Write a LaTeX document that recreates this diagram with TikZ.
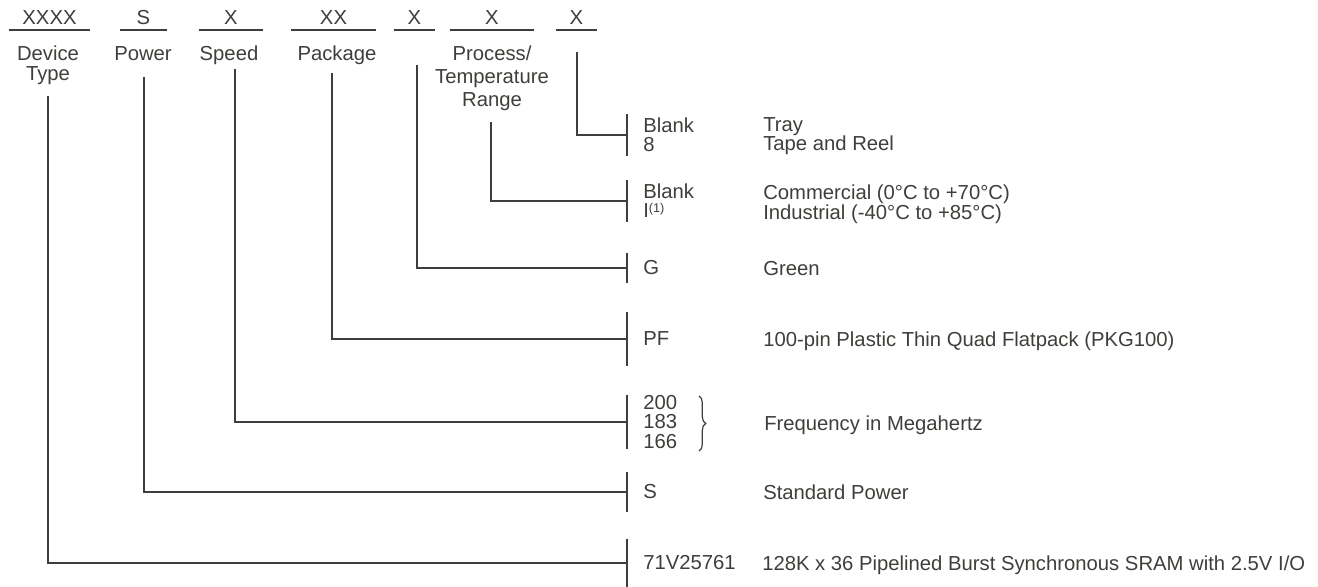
\documentclass[tikz,border=0pt]{standalone}
\usepackage{fontspec}
\setmainfont{Liberation Sans}
\usepackage{xcolor}
\usetikzlibrary{positioning,decorations.pathreplacing}
\definecolor{ink}{RGB}{62,62,58}
\newcommand{\ordfont}{\fontsize{15.2}{14.3}\selectfont}
\newcommand{\notemark}[1]{\raisebox{0.26em}{\fontsize{9.5}{9}\selectfont(#1)}}

\begin{document}
\begin{tikzpicture}[x=0.75pt,y=-0.75pt,
  every node/.style={inner sep=0pt,text=ink,font=\ordfont},
  field/.style={anchor=south,text depth=3.75pt},
  hdr/.style={anchor=north,align=center},
  code/.style={anchor=west,inner xsep=12pt,align=left},
  desc/.style={anchor=north west,align=left},
  wire/.style={draw=ink,line width=1.6pt}]
\useasboundingbox (0,0) rectangle (1318,586);
\node[field,minimum width=60.75pt] (fdev) at (49.5,30) {XXXX};
\node[field,minimum width=35.25pt] (fpow) at (143.5,30) {S};
\node[field,minimum width=48pt] (fspd) at (231,30) {X};
\node[field,minimum width=63.75pt] (fpkg) at (333.5,30) {XX};
\node[field,minimum width=30.75pt] (fgrn) at (414.5,30) {X};
\node[field,minimum width=63pt] (ftmp) at (492,30) {X};
\node[field,minimum width=30.75pt] (fpck) at (576.5,30) {X};
\foreach \f in {fdev,fpow,fspd,fpkg,fgrn,ftmp,fpck}
  \draw[wire] (\f.south west) -- (\f.south east);
\node[hdr] (ldev) at (48,46) {Device\\Type};
\node[hdr] (lpow) at (143,46) {Power};
\node[hdr] (lspd) at (229,46) {Speed};
\node[hdr] (lpkg) at (337,46) {Package};
\node[hdr] (ltmp) at (492,46) {Process/\\[2.6pt]Temperature\\[2.6pt]Range};
\coordinate (sdev) at (48,96);
\coordinate (spow) at (144,77);
\coordinate (sspd) at (235,69);
\coordinate (spkg) at (332,73);
\coordinate (sgrn) at (417,65);
\coordinate (stmp) at (491,122);
\coordinate (spck) at (577,52);
\node[code,minimum height=30.75pt] (cpck) at (627,135) {Blank\\8};
\node[code,minimum height=30.75pt] (ctmp) at (627,201) {Blank\\I\notemark{1}};
\node[code,minimum height=21.75pt] (cgrn) at (627,268) {G};
\node[code,minimum height=39.75pt] (cpkg) at (627,339) {PF};
\node[code,minimum height=40.5pt] (cspd) at (627,422) {200\\183\\166};
\node[code,minimum height=29.25pt] (cpow) at (627,492) {S};
\node[code,minimum height=36pt] (cdev) at (627,563) {71V25761};
\foreach \s/\c in {spck/cpck,stmp/ctmp,sgrn/cgrn,spkg/cpkg,sspd/cspd,spow/cpow,sdev/cdev} {
  \draw[wire] (\s) |- (\c.west);
  \draw[wire] (\c.north west) -- (\c.south west);
}
\node[desc] (dpck) at (763,117) {Tray\\Tape and Reel};
\node[desc] (dtmp) at (763,185) {Commercial (0°C to +70°C)\\Industrial (-40°C to +85°C)};
\node[desc] (dgrn) at (763,261) {Green};
\node[desc] (dpkg) at (763,332) {100-pin Plastic Thin Quad Flatpack (PKG100)};
\node[desc] (dspd) at (764,416) {Frequency in Megahertz};
\node[desc] (dpow) at (763,485) {Standard Power};
\node[desc] (ddev) at (762,556) {128K x 36 Pipelined Burst Synchronous SRAM with 2.5V I/O};
\coordinate (btop) at (699,396);
\coordinate (bbot) at (699,451);
\draw[ink,line width=0.9pt,decorate,decoration={brace,amplitude=5pt}] (btop) -- (bbot);
\end{tikzpicture}
\end{document}
